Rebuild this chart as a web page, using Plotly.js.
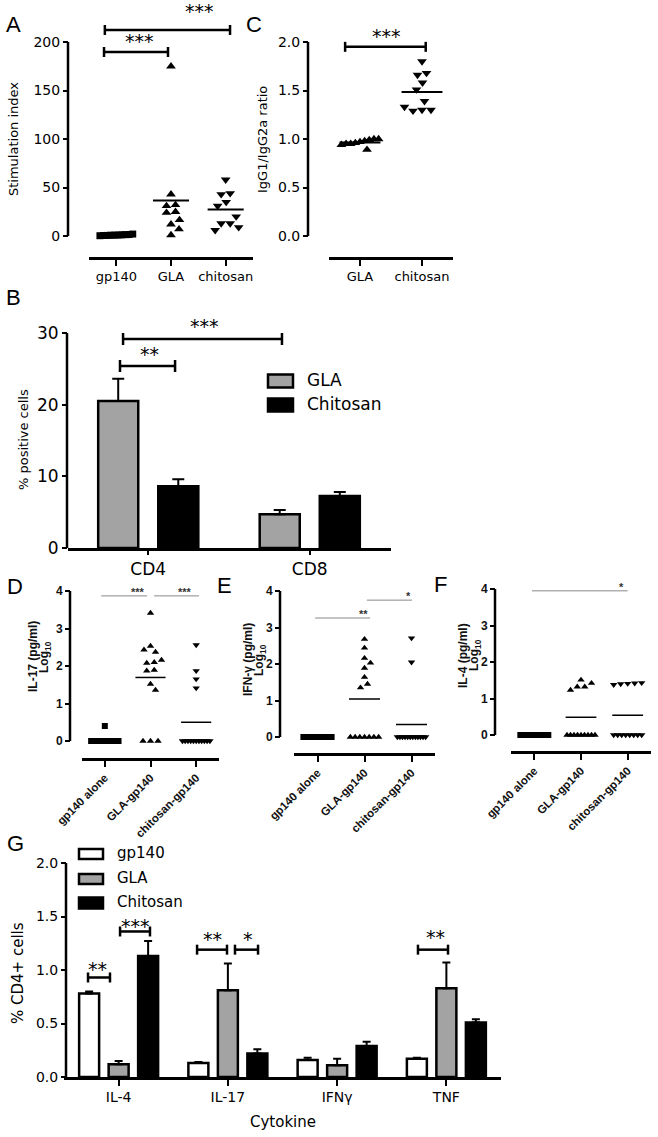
<!DOCTYPE html>
<html>
<head>
<meta charset="utf-8">
<script src="https://cdn.plot.ly/plotly-3.0.1.min.js"></script>
<style>
  body { margin: 0; background: #fff; }
  #chart { width: 658px; height: 1137px; }
</style>
</head>
<body>
<div id="chart"></div>
<script>
const W = 658, H = 1137;

// A: stimulation index
const aGroups = ["gp140", "GLA", "chitosan"];
const aGp140 = [0.5, 1.2, 0.8, 1.5, 0.3, 1.0, 2.0, 0.6, 1.4, 0.9];
const aGLA = [175, 43, 32, 31, 25, 24, 16.5, 12, 7, 1];
const aChitosan = [58, 44, 43, 35, 31, 20, 13, 13, 9, 6];
const aTicks = [0, 50, 100, 150, 200];

// C: IgG1/IgG2a ratio
const cGroups = ["GLA", "chitosan"];
const cGLA = [0.97, 0.99, 0.95, 1.0, 0.96, 0.89, 0.94, 1.0, 0.98, 0.95];
const cChitosan = [1.80, 1.66, 1.68, 1.58, 1.51, 1.39, 1.30, 1.29, 1.30, 1.33];
const cTicks = [0, 0.5, 1.0, 1.5, 2.0];

// B: % positive cells
const bCells = ["CD4", "CD8"];
const bGLA = [20.5, 4.7];
const bGLAErr = [3.1, 0.6];
const bChitosan = [8.6, 7.25];
const bChitosanErr = [1.0, 0.55];
const bTicks = [0, 10, 20, 30];

// D, E, F: cytokines, log10 pg/ml
const cytoGroups = ["gp140 alone", "GLA-gp140", "chitosan-gp140"];
const logTicks = [0, 1, 2, 3, 4];
const zeros = n => Array(n).fill(0);
const dGp140 = [0.4].concat(zeros(14));
const dGLA = [3.41, 2.53, 2.37, 2.43, 2.10, 2.16, 2.08, 1.87, 1.89, 1.52, 1.36, 0, 0, 0];
const dChitosan = [2.56, 1.87, 1.65, 1.41].concat(zeros(11));
const eGp140 = zeros(15);
const eGLA = [2.68, 2.44, 2.16, 2.03, 1.89, 1.64, 1.45, 1.35].concat(zeros(7));
const eChitosan = [2.71, 2.05].concat(zeros(12));
const fGp140 = zeros(15);
const fGLA = [1.42, 1.32, 1.23, 1.51, 1.32].concat(zeros(9));
const fChitosan = [1.42, 1.40, 1.43, 1.41, 1.38].concat(zeros(8));

// G: % CD4+ cells
const gCytokines = ["IL-4", "IL-17", "IFNγ", "TNF"];
const gGp140 = [0.78, 0.13, 0.16, 0.17];
const gGp140Err = [0.02, 0.01, 0.02, 0.01];
const gGLA = [0.12, 0.81, 0.11, 0.83];
const gGLAErr = [0.03, 0.25, 0.06, 0.24];
const gChitosan = [1.13, 0.22, 0.29, 0.51];
const gChitosanErr = [0.14, 0.04, 0.04, 0.03];
const gTicks = [0, 0.5, 1.0, 1.5, 2.0];

// significance brackets: from, to, level, label x, label y, label
const aSig = [[-0.21, 2.08, 212.4, 1.53, 229, "***"], [-0.225, 0.945, 189.7, 0.43, 198, "***"]];
const cSig = [[-0.24, 1.06, 1.95, 0.435, 2.03, "***"]];
const bSig = [[-0.175, 0.166, 25.4, 0.005, 26.6, "**"], [-0.156, 0.828, 29.15, 0.35, 30.5, "***"]];
const dSig = [[-0.08, 0.925, 3.87, 0.73, 3.97, "***"], [1.08, 2.06, 3.87, 1.76, 3.97, "***"]];
const eSig = [[-0.05, 1.12, 3.26, 0.97, 3.37, "**"], [1.05, 2.01, 3.75, 1.93, 3.86, "*"]];
const fSig = [[-0.05, 2.0, 3.95, 1.86, 4.05, "*"]];
const gSig = [[-0.28, -0.079, 0.93, -0.189, 0.98, "**"], [0.013, 0.287, 1.36, 0.15, 1.385, "***"],
              [0.718, 0.992, 1.19, 0.855, 1.26, "**"], [1.065, 1.276, 1.19, 1.18, 1.26, "*"],
              [2.74, 3.015, 1.19, 2.896, 1.28, "**"]];

const traces = [], shapes = [], annots = [];
const sans = "DejaVu Sans, Verdana, sans-serif";
const arial = "Liberation Sans, Arial, sans-serif";
const layout = {
  width: W, height: H,
  margin: { l: 0, r: 0, t: 0, b: 0 },
  showlegend: false,
  barmode: "overlay",
  paper_bgcolor: "#fff",
  plot_bgcolor: "rgba(0,0,0,0)",
  font: { family: sans, color: "black" },
  shapes: shapes,
  annotations: annots
};

// set up one panel: pixel box of the plot, y axis position, and two y calibration points
function panel(n, g) {
  const s = n === 1 ? "" : String(n);
  const ky = (g.cal[1] - g.cal[3]) / (g.cal[2] - g.cal[0]);
  const lo = g.cal[0] - (g.y[1] - g.cal[1]) / ky;
  const hi = g.cal[0] + (g.cal[1] - g.y[0]) / ky;
  layout["xaxis" + s] = {
    domain: [g.x[0] / W, g.x[1] / W], range: [-0.5, g.cats.length - 0.5], anchor: "y" + s,
    tickvals: g.cats.map((c, i) => i), ticktext: g.cats, tickangle: g.xAngle || 0,
    showline: true, linewidth: 2.5, linecolor: "#000", ticks: "outside", ticklen: g.xTickLen || 6,
    tickwidth: 2, tickcolor: "#000", showgrid: false, zeroline: false, tickfont: g.xFont
  };
  layout["yaxis" + s] = {
    domain: [1 - g.y[1] / H, 1 - g.y[0] / H], range: [lo, hi], anchor: "free", position: g.yPos / W,
    tickvals: g.ticks, ticktext: g.ticks.map(t => t.toFixed(g.dec || 0)),
    showline: false, ticks: "outside", ticklen: 5, tickwidth: 2, tickcolor: "#000",
    showgrid: false, zeroline: false, tickfont: g.yFont
  };
  shapes.push({
    type: "line", xref: "paper", yref: "y" + s, x0: g.yPos / W, x1: g.yPos / W,
    y0: g.ticks[0], y1: g.ticks[g.ticks.length - 1], line: { color: "#000", width: 2.5 }
  });
  return { xa: "x" + s, ya: "y" + s, kx: (g.x[1] - g.x[0]) / g.cats.length, ky: ky };
}

// beeswarm offsets in px; near-equal values sit side by side in a squeezed row
function swarm(vals, ky, d, cap) {
  const ys = vals.map(v => v * ky);
  const off = new Array(vals.length);
  const placed = [];
  const order = ys.map((y, i) => i).sort((a, b) => ys[a] - ys[b]);
  const rows = [];
  order.forEach(i => {
    const last = rows[rows.length - 1];
    if (last && ys[i] - ys[last[last.length - 1]] <= 2) last.push(i);
    else rows.push([i]);
  });
  rows.filter(r => r.length > 1).forEach(r => {
    const step = Math.min(d, 2 * cap / (r.length - 1));
    r.forEach((i, k) => { off[i] = (k - (r.length - 1) / 2) * step; placed.push([off[i], ys[i]]); });
  });
  vals.forEach((v, i) => {
    if (off[i] !== undefined) return;
    let best = 0, bestGap = -1;
    for (let t = 0; t <= cap && bestGap !== Infinity; t += 0.5) {
      for (const x of [t, -t]) {
        const gap = Math.min(Infinity, ...placed.map(p => Math.hypot(p[0] - x, p[1] - ys[i])));
        if (gap >= d) { best = x; bestGap = Infinity; break; }
        if (gap > bestGap) { bestGap = gap; best = x; }
      }
    }
    off[i] = best;
    placed.push([best, ys[i]]);
  });
  return off;
}

function dots(ax, i, vals, symbol, size, d, lw) {
  const cap = 0.3 * ax.kx;
  const off = swarm(vals, ax.ky, d, cap);
  traces.push({
    type: "scatter", mode: "markers", xaxis: ax.xa, yaxis: ax.ya,
    x: vals.map((v, j) => i + off[j] / ax.kx), y: vals, cliponaxis: false,
    marker: { symbol: symbol, size: size, color: "#000" }, hoverinfo: "skip"
  });
  const mean = vals.reduce((a, b) => a + b, 0) / vals.length;
  traces.push({
    type: "scatter", mode: "lines", xaxis: ax.xa, yaxis: ax.ya,
    x: [i - 0.33, i + 0.33], y: [mean, mean], line: { color: "#000", width: lw }, hoverinfo: "skip"
  });
}

function brackets(ax, list, st) {
  list.forEach(b => {
    const [x0, x1, y, tx, ty, txt] = b;
    const c = st.cap / ax.ky;
    const xs = st.cap ? [x0, x0, null, x0, x1, null, x1, x1] : [x0, x1];
    const ys = st.cap ? [y - c, y + c, null, y, y, null, y - c, y + c] : [y, y];
    traces.push({
      type: "scatter", mode: "lines", xaxis: ax.xa, yaxis: ax.ya, x: xs, y: ys,
      line: { color: st.color, width: st.width }, hoverinfo: "skip"
    });
    annots.push({
      xref: ax.xa, yref: ax.ya, x: tx, y: ty, text: txt, showarrow: false,
      yanchor: "middle", yshift: st.shift, font: st.font
    });
  });
}

function bars(ax, vals, err, color, width, offset, errW) {
  traces.push({
    type: "bar", xaxis: ax.xa, yaxis: ax.ya, x: vals.map((v, i) => i), y: vals,
    width: width, offset: offset,
    marker: { color: color, line: { color: "#000", width: 2.5 } },
    error_y: { type: "data", symmetric: false, array: err, arrayminus: err.map(() => 0),
               color: "#000", thickness: 2, width: errW },
    hoverinfo: "skip"
  });
}

function label(x, y, text, font, angle) {
  annots.push({ xref: "paper", yref: "paper", x: x / W, y: 1 - y / H, text: text, showarrow: false,
                xanchor: "center", yanchor: "middle", textangle: angle || 0, font: font });
}

const tick14 = { family: sans, size: 14, color: "black" };
const tick13 = { family: sans, size: 13, color: "black" };
const boldTick = { family: arial, size: 12, weight: "bold", color: "#111" };
const boldX = { family: arial, size: 11.5, weight: "bold", color: "#111" };
const bigSig = { cap: 5, color: "#000", width: 2.5, shift: 3, font: { family: sans, size: 19, color: "black" } };
const thinSig = { cap: 0, color: "#888", width: 1, shift: 0, font: { family: arial, size: 11, weight: "bold", color: "#333" } };

// ---- A
const axA = panel(1, { x: [89, 253], y: [4, 257], yPos: 68, cal: [0, 236, 200, 42], cats: aGroups,
                       ticks: aTicks, xFont: tick13, yFont: tick14 });
dots(axA, 0, aGp140, "square", 7, 9, 2);
dots(axA, 1, aGLA, "triangle-up", 8.5, 9, 2);
dots(axA, 2, aChitosan, "triangle-down", 8.5, 9, 2);
brackets(axA, aSig, bigSig);

// ---- C
const axC = panel(2, { x: [329, 453], y: [20, 257], yPos: 308, cal: [0, 236, 2, 42], cats: cGroups,
                       ticks: cTicks, dec: 1, xFont: tick13, yFont: tick14 });
dots(axC, 0, cGLA, "triangle-up", 8.5, 9, 2);
dots(axC, 1, cChitosan, "triangle-down", 8.5, 9, 2);
brackets(axC, cSig, bigSig);

// ---- B
const axB = panel(3, { x: [67.5, 390.5], y: [320, 548], yPos: 67, cal: [0, 548, 30, 333], cats: bCells,
                       ticks: bTicks, xTickLen: 4, xFont: { family: sans, size: 17, color: "black" },
                       yFont: { family: sans, size: 17, color: "black" } });
bars(axB, bGLA, bGLAErr, "#a3a3a3", 0.248, -0.31, 6);
bars(axB, bChitosan, bChitosanErr, "#000", 0.248, 0.062, 6);
brackets(axB, bSig, Object.assign({}, bigSig, { cap: 6 }));

// ---- D, E, F
const axD = panel(4, { x: [82, 219], y: [585, 758], yPos: 70, cal: [0, 741, 4, 591], cats: cytoGroups,
                       ticks: logTicks, xAngle: -45, xFont: boldX, yFont: boldTick });
const axE = panel(5, { x: [294, 435], y: [585, 753], yPos: 280, cal: [0, 737, 4, 591], cats: cytoGroups,
                       ticks: logTicks, xAngle: -45, xFont: boldX, yFont: boldTick });
const axF = panel(6, { x: [511, 651], y: [585, 751], yPos: 495, cal: [0, 735, 4, 589], cats: cytoGroups,
                       ticks: logTicks, xAngle: -45, xFont: boldX, yFont: boldTick });
[[axD, dGp140, dGLA, dChitosan, dSig], [axE, eGp140, eGLA, eChitosan, eSig],
 [axF, fGp140, fGLA, fChitosan, fSig]].forEach(p => {
  dots(p[0], 0, p[1], "square", 6, 7.5, 1.5);
  dots(p[0], 1, p[2], "triangle-up", 6.5, 7.5, 1.5);
  dots(p[0], 2, p[3], "triangle-down", 6.5, 7.5, 1.5);
  brackets(p[0], p[4], thinSig);
});

// ---- G
const axG = panel(7, { x: [64, 501], y: [845, 1077], yPos: 66, cal: [0, 1077, 2, 863], cats: gCytokines,
                       ticks: gTicks, dec: 1, xFont: tick14, yFont: tick14 });
bars(axG, gGp140, gGp140Err, "#fff", 0.183, -0.3615, 4);
bars(axG, gGLA, gGLAErr, "#a3a3a3", 0.183, -0.0915, 4);
bars(axG, gChitosan, gChitosanErr, "#000", 0.183, 0.1785, 4);
brackets(axG, gSig, bigSig);

// legends for the bar panels
function legendBox(x0, x1, yc, h, fill, text, size) {
  shapes.push({ type: "rect", xref: "paper", yref: "paper", x0: x0 / W, x1: x1 / W,
                y0: 1 - (yc + h / 2) / H, y1: 1 - (yc - h / 2) / H,
                fillcolor: fill, line: { color: "#000", width: 2.5 } });
  annots.push({ xref: "paper", yref: "paper", x: (x1 + 12) / W, y: 1 - (yc - 1) / H, text: text, showarrow: false,
                xanchor: "left", yanchor: "middle", font: { family: sans, size: size, color: "black" } });
}
legendBox(268, 293, 381, 13, "#a3a3a3", "GLA", 17);
legendBox(268, 293, 405, 13, "#000", "Chitosan", 17);
legendBox(79, 103, 854, 10, "#fff", "gp140", 15);
legendBox(79, 103, 879, 10, "#a3a3a3", "GLA", 15);
legendBox(79, 103, 903, 11, "#000", "Chitosan", 15);

// axis titles
label(13, 139, "Stimulation index", { family: sans, size: 13, color: "black" }, -90);
label(263, 140, "IgG1/IgG2a ratio", { family: sans, size: 13, color: "black" }, -90);
label(23, 440, "% positive cells", { family: sans, size: 13, color: "black" }, -90);
label(33, 657, "IL-17 (pg/ml)", boldTick, -90);
label(45, 657, "Log<sub>10</sub>", boldTick, -90);
label(248, 660, "IFN-γ (pg/ml)", boldTick, -90);
label(260, 660, "Log<sub>10</sub>", boldTick, -90);
label(463, 655, "IL-4 (pg/ml)", boldTick, -90);
label(475, 655, "Log<sub>10</sub>", boldTick, -90);
label(18, 973, "% CD4+ cells", { family: sans, size: 15, color: "black" }, -90);
label(283, 1122, "Cytokine", { family: sans, size: 15, color: "black" });

// panel letters
const letterFont = { family: arial, size: 22, color: "black" };
[["A", 13, 25], ["C", 254, 25], ["B", 13, 298], ["D", 15, 586], ["E", 225, 585],
 ["F", 440, 584], ["G", 15, 843]].forEach(l => label(l[1], l[2], l[0], letterFont));

Plotly.newPlot("chart", traces, layout, { staticPlot: true });
</script>
</body>
</html>
